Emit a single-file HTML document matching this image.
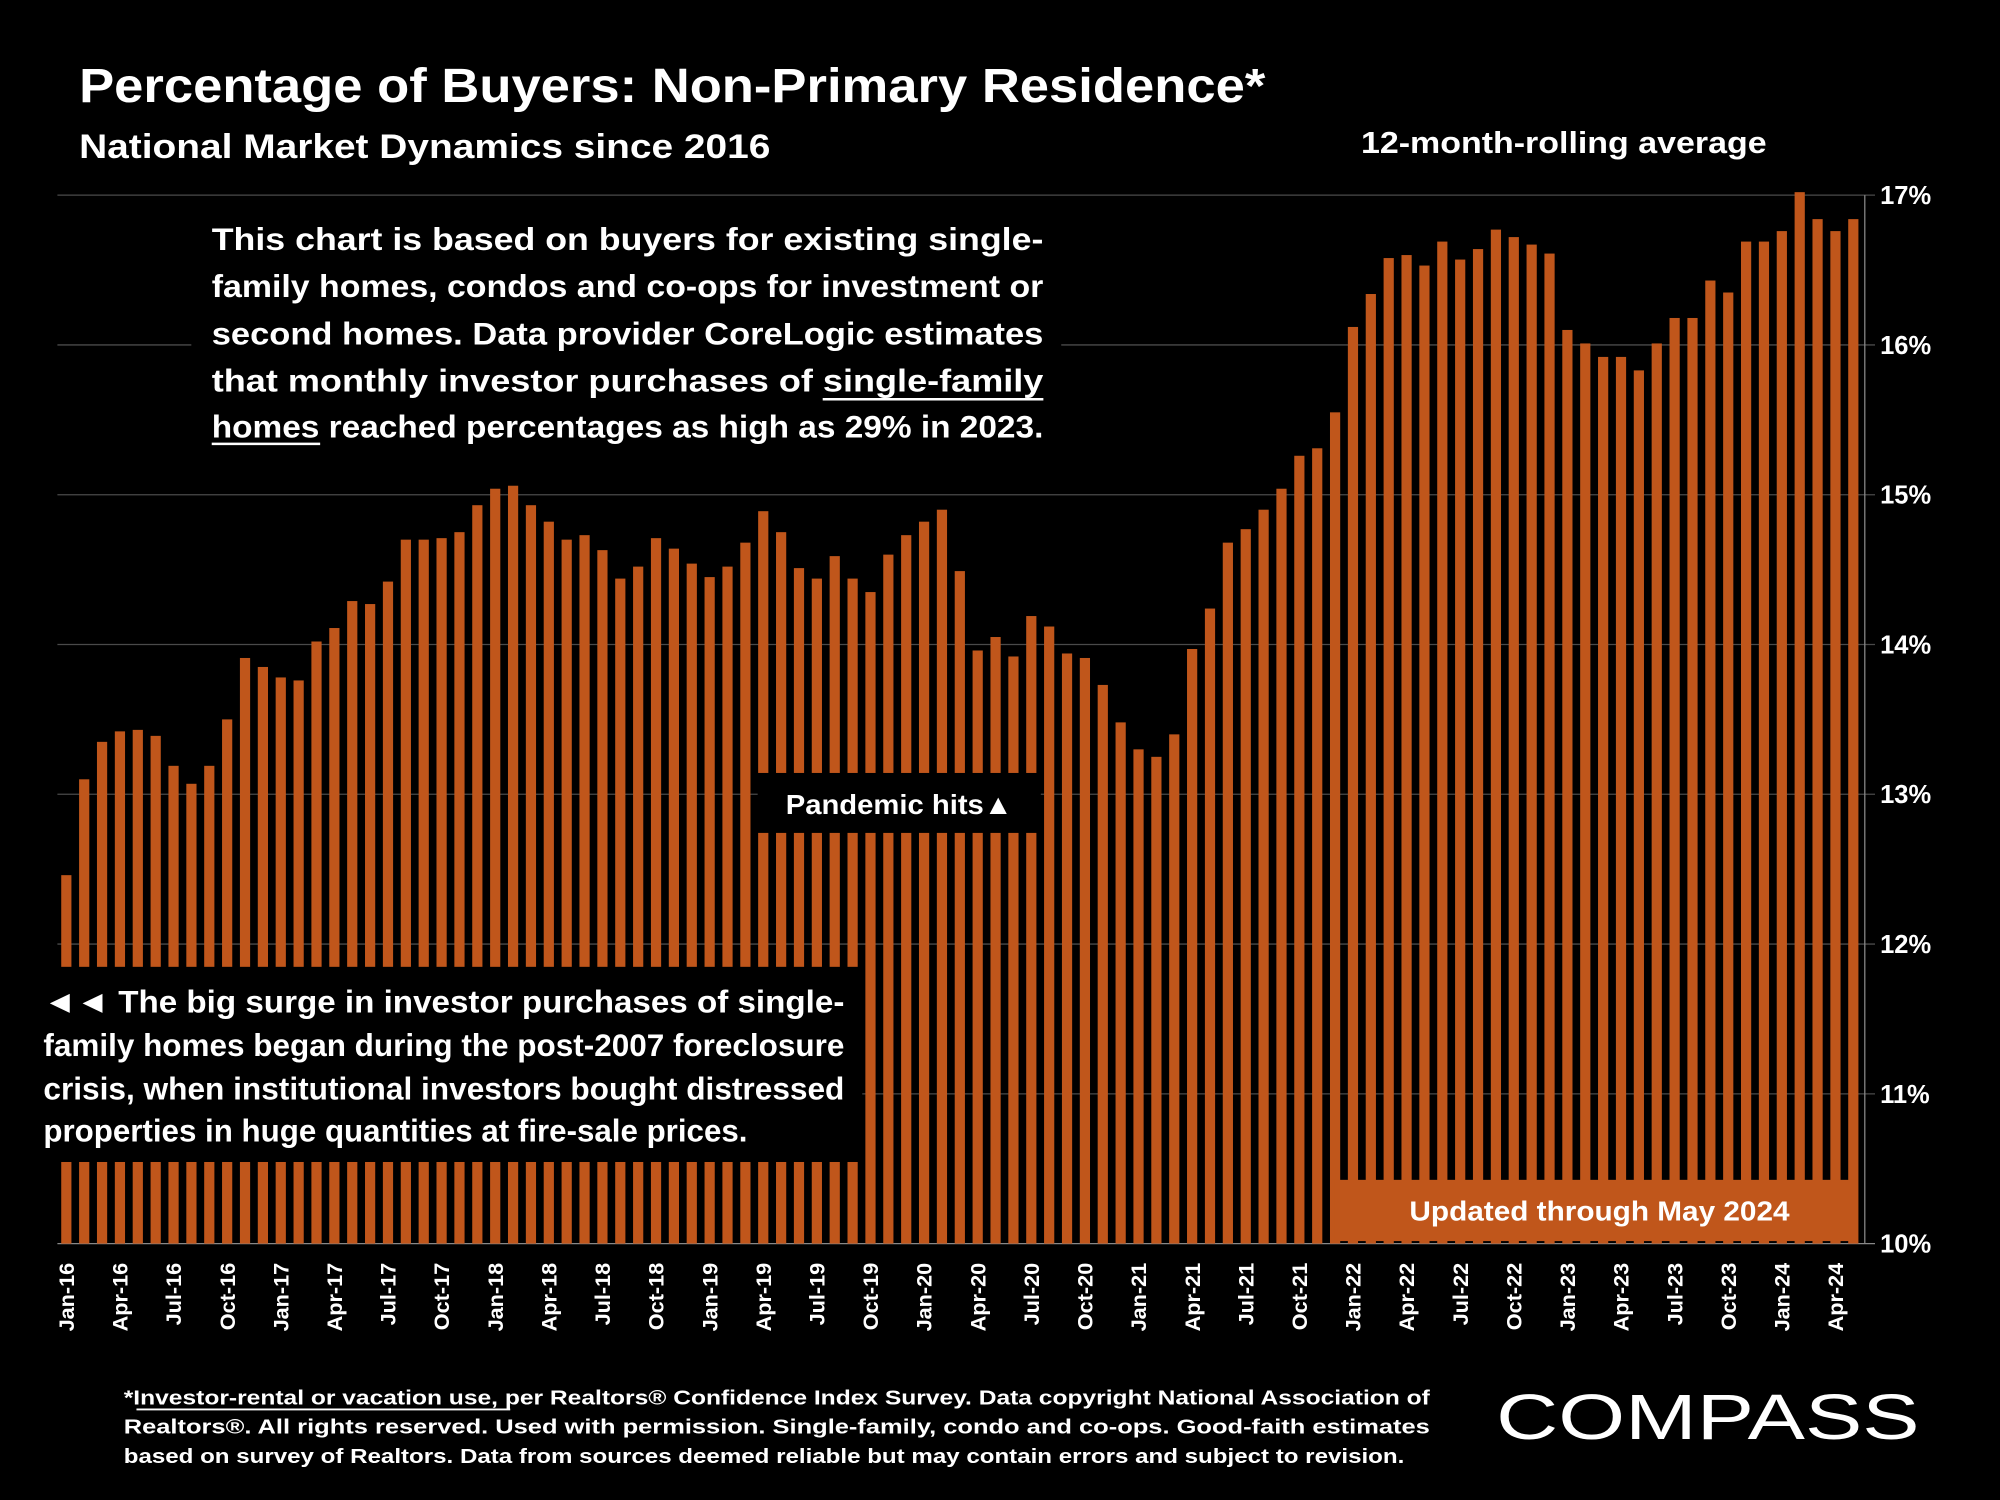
<!DOCTYPE html>
<html><head><meta charset="utf-8"><style>
html,body{margin:0;padding:0;background:#000;}
svg{display:block;font-family:"Liberation Sans",sans-serif;}
</style></head><body>
<svg id="chart" width="2000" height="1500" viewBox="0 0 1568 1176" xmlns="http://www.w3.org/2000/svg">
<rect x="0" y="0" width="1568" height="1176" fill="#000"/>
<text x="62" y="80" fill="#fff" font-size="38" font-weight="bold" textLength="930" lengthAdjust="spacingAndGlyphs">Percentage of Buyers: Non-Primary Residence*</text>
<text x="62" y="124" fill="#fff" font-size="27" font-weight="bold" textLength="542" lengthAdjust="spacingAndGlyphs">National Market Dynamics since 2016</text>
<text x="1226" y="120" fill="#fff" font-size="24" font-weight="bold" text-anchor="middle" textLength="318" lengthAdjust="spacingAndGlyphs">12-month-rolling average</text>
<g id="grid"></g>
<g id="bars"></g>
<g id="axis"></g>
<g id="xaxis"></g>

<g>
<rect x="150" y="162" width="682" height="192" fill="#000"/>
<g fill="#fff" font-size="25" font-weight="bold">
<text x="166" y="196" textLength="652" lengthAdjust="spacingAndGlyphs">This chart is based on buyers for existing single-</text>
<text x="166" y="233" textLength="652" lengthAdjust="spacingAndGlyphs">family homes, condos and co-ops for investment or</text>
<text x="166" y="270" textLength="652" lengthAdjust="spacingAndGlyphs">second homes.  Data provider CoreLogic estimates</text>
<text x="166" y="307" textLength="652" lengthAdjust="spacingAndGlyphs">that monthly investor purchases of single-family</text>
<text x="166" y="343" textLength="652" lengthAdjust="spacingAndGlyphs">homes reached percentages as high as 29% in 2023.</text>
</g>
<line x1="645" y1="313" x2="818" y2="313" stroke="#fff" stroke-width="2"/>
<line x1="166" y1="348" x2="251" y2="348" stroke="#fff" stroke-width="2"/>
</g>

<g>
<rect x="594" y="606" width="222" height="47" fill="#000"/>
<text x="705" y="638" fill="#fff" font-size="22" font-weight="bold" text-anchor="middle" textLength="178" lengthAdjust="spacingAndGlyphs">Pandemic hits▲</text>
</g>

<g>
<rect x="0" y="758" width="676" height="153" fill="#000"/>
<g fill="#fff" font-size="25" font-weight="bold">
<text x="34" y="794" textLength="628" lengthAdjust="spacingAndGlyphs">◄◄ The big surge in investor purchases of single-</text>
<text x="34" y="828" textLength="628" lengthAdjust="spacingAndGlyphs">family homes began during the post-2007 foreclosure</text>
<text x="34" y="862" textLength="628" lengthAdjust="spacingAndGlyphs">crisis, when institutional investors bought distressed</text>
<text x="34" y="895" textLength="552" lengthAdjust="spacingAndGlyphs">properties in huge quantities at fire-sale prices.</text>
</g>
</g>

<g>
<rect x="1046" y="925" width="410" height="48" fill="#C0561B"/>
<text x="1254" y="957" fill="#fff" font-size="22" font-weight="bold" text-anchor="middle" textLength="298" lengthAdjust="spacingAndGlyphs">Updated through May 2024</text>
</g>

<g fill="#fff" font-size="16" font-weight="bold">
<text x="97" y="1101" textLength="1024" lengthAdjust="spacingAndGlyphs">*Investor-rental or vacation use, per Realtors® Confidence Index Survey. Data copyright National Association of</text>
<text x="97" y="1124" textLength="1024" lengthAdjust="spacingAndGlyphs">Realtors®. All rights reserved. Used with permission. Single-family, condo and co-ops. Good-faith estimates</text>
<text x="97" y="1147" textLength="1004" lengthAdjust="spacingAndGlyphs">based on survey of Realtors. Data from sources deemed reliable but may contain errors and subject to revision.</text>
<line x1="107" y1="1105" x2="400" y2="1105" stroke="#fff" stroke-width="1.5"/>
</g>
<text x="1173" y="1128" fill="#fff" font-size="50" textLength="332" lengthAdjust="spacingAndGlyphs">COMPASS</text>

<script>
const months = ["Jan","Feb","Mar","Apr","May","Jun","Jul","Aug","Sep","Oct","Nov","Dec"];
const startYear = 16;
const values = [12.46,13.10,13.35,13.42,13.43,13.39,13.19,13.07,13.19,13.50,13.91,13.85,
13.78,13.76,14.02,14.11,14.29,14.27,14.42,14.70,14.70,14.71,14.75,14.93,
15.04,15.06,14.93,14.82,14.70,14.73,14.63,14.44,14.52,14.71,14.64,14.54,
14.45,14.52,14.68,14.89,14.75,14.51,14.44,14.59,14.44,14.35,14.60,14.73,
14.82,14.90,14.49,13.96,14.05,13.92,14.19,14.12,13.94,13.91,13.73,13.48,
13.30,13.25,13.40,13.97,14.24,14.68,14.77,14.90,15.04,15.26,15.31,15.55,
16.12,16.34,16.58,16.60,16.53,16.69,16.57,16.64,16.77,16.72,16.67,16.61,
16.10,16.01,15.92,15.92,15.83,16.01,16.18,16.18,16.43,16.35,16.69,16.69,
16.76,17.02,16.84,16.76,16.84];
const yTicks = [10,11,12,13,14,15,16,17];
const yTickLabels = ["10%","11%","12%","13%","14%","15%","16%","17%"];

const NS="http://www.w3.org/2000/svg";
const yMin=10,yMax=17,plotTop=153,plotBottom=975,x0=52,step=14.01,bw=8;
function yScale(v){return plotBottom-(v-yMin)/(yMax-yMin)*(plotBottom-plotTop);}
function xScale(i){return x0+i*step;}
const grid=document.getElementById('grid'),bars=document.getElementById('bars'),
axisG=document.getElementById('axis'),xaxis=document.getElementById('xaxis');
yTicks.forEach((t,k)=>{
  const l=document.createElementNS(NS,'line');
  
  
  l.setAttribute('x1',45);l.setAttribute('x2',1470);
  l.setAttribute('y1',yScale(t));l.setAttribute('y2',yScale(t));
  l.setAttribute('stroke',t===10?'#888':'#4a4a4a');l.setAttribute('stroke-width',1);
  grid.appendChild(l);
  const tx=document.createElementNS(NS,'text');
  
  
  tx.setAttribute('x',1474);tx.setAttribute('y',yScale(t)+7);
  tx.setAttribute('fill','#fff');tx.setAttribute('font-size','20');tx.setAttribute('font-weight','bold');
  tx.textContent=yTickLabels[k];
  axisG.appendChild(tx);
});
const al=document.createElementNS(NS,'line');


al.setAttribute('x1',1462);al.setAttribute('x2',1462);al.setAttribute('y1',plotTop);al.setAttribute('y2',plotBottom);
al.setAttribute('stroke','#888');
axisG.appendChild(al);
values.forEach((v,i)=>{
  const r=document.createElementNS(NS,'rect');
  
  
  r.setAttribute('x',xScale(i)-bw/2);r.setAttribute('y',yScale(v));
  r.setAttribute('width',bw);r.setAttribute('height',plotBottom-yScale(v));
  r.setAttribute('fill','#C0561B');
  bars.appendChild(r);
  if(i%3===0){
    const m=i%12,yr=startYear+Math.floor(i/12);
    const t=document.createElementNS(NS,'text');
    
    
    t.setAttribute('transform','translate('+(xScale(i)+6)+',990) rotate(-90)');
    t.setAttribute('text-anchor','end');t.setAttribute('fill','#fff');
    t.setAttribute('font-size','17');t.setAttribute('font-weight','bold');
    t.textContent=months[m]+'-'+yr;
    xaxis.appendChild(t);
  }
});
</script>
</svg>
</body></html>
